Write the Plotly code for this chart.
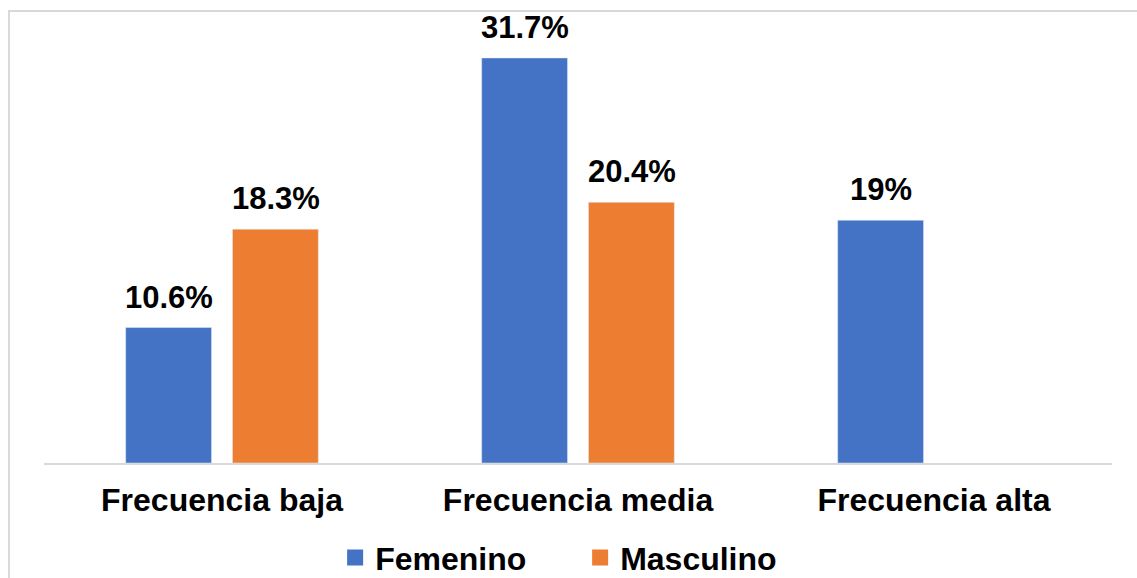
import plotly.graph_objects as go

categories = ["Frecuencia baja", "Frecuencia media", "Frecuencia alta"]
femenino = [10.6, 31.7, 19]
masculino = [18.3, 20.4, None]

BLUE = "#4472C4"
ORANGE = "#ED7D31"
FONT = "Liberation Sans, Arial, sans-serif"

fig = go.Figure()
fig.add_trace(go.Bar(name="Femenino", x=categories, y=femenino, marker_color=BLUE,
                     showlegend=False))
fig.add_trace(go.Bar(name="Masculino", x=categories, y=masculino, marker_color=ORANGE,
                     showlegend=False))
# legend-only entries with larger square symbols
for name, col in [("Femenino", BLUE), ("Masculino", ORANGE)]:
    fig.add_trace(go.Scatter(name=name, x=[None], y=[None], mode="markers",
                             marker=dict(symbol="square", size=17, color=col, line=dict(width=0)),
                             showlegend=True))

# data labels placed over each bar through the axes
SLOT_SHIFT = 53.5
for series, shift in [(femenino, -SLOT_SHIFT), (masculino, SLOT_SHIFT)]:
    for cat, v in zip(categories, series):
        if v is None:
            continue
        fig.add_annotation(x=cat, y=v, xref="x", yref="y", text=f"{v:g}%",
                           showarrow=False, xshift=shift, yshift=11, yanchor="bottom",
                           font=dict(size=31, color="black", family=FONT, weight="bold"))

fig.update_layout(
    width=1137, height=578,
    margin=dict(l=44, r=25, t=20, b=115, autoexpand=False),
    plot_bgcolor="white", paper_bgcolor="white",
    barmode="group", bargap=0.4, bargroupgap=0.196,
    font=dict(family=FONT, size=32, color="black"),
    xaxis=dict(showline=True, linecolor="#d9d9d9", linewidth=1.5, ticks="",
               ticklabelstandoff=8,
               tickfont=dict(size=32, family=FONT, color="black", weight="bold"),
               showgrid=False, zeroline=False),
    yaxis=dict(visible=False, range=[0, 34.67], showgrid=False, zeroline=False),
    legend=dict(orientation="h", x=0.502, xanchor="center",
                yref="container", y=0.035, yanchor="middle",
                entrywidth=200,
                font=dict(size=32, family=FONT, color="black", weight="bold"),
                bgcolor="rgba(0,0,0,0)"),
    shapes=[dict(type="rect", xref="paper", yref="paper",
                 x0=-0.0328, x1=1.03, y0=-0.3, y1=1.0203,
                 line=dict(color="#d9d9d9", width=2), fillcolor="rgba(0,0,0,0)", layer="below")],
)

fig.write_html("out.html")
